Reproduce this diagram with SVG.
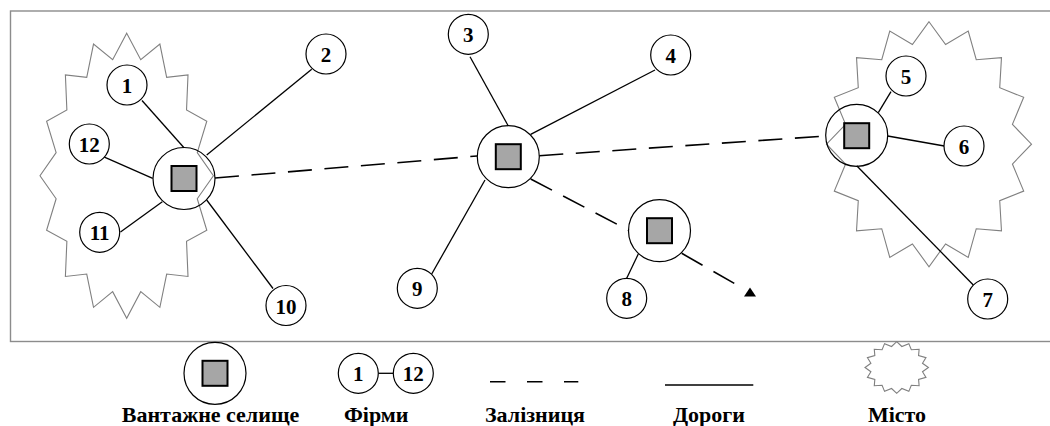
<svg xmlns="http://www.w3.org/2000/svg" xmlns:xlink="http://www.w3.org/1999/xlink" width="1050" height="426" viewBox="0 0 1050 426">
<style>
.frame{fill:none;stroke:#8c8c8c;stroke-width:1.4}
.city{fill:none;stroke:#808080;stroke-width:1.1}
.firm{fill:#fff;stroke:#000;stroke-width:1.2}
.hub{fill:none;stroke:#000;stroke-width:1.2}
.sq{fill:#a6a6a6;stroke:#000;stroke-width:2}
.road{stroke:#000;stroke-width:1.3;fill:none}
.rail{stroke:#000;stroke-width:1.6;fill:none;stroke-dasharray:24 12.6}
.lbl{font-size:22px}
</style>
<defs>
<polygon id="star" vector-effect="non-scaling-stroke" points="0,-100 16.19,-81.39 38.27,-92.39 46.10,-69.00 70.71,-70.71 69.00,-46.10 92.39,-38.27 81.39,-16.19 100,0 81.39,16.19 92.39,38.27 69.00,46.10 70.71,70.71 46.10,69.00 38.27,92.39 16.19,81.39 0,100 -16.19,81.39 -38.27,92.39 -46.10,69.00 -70.71,70.71 -69.00,46.10 -92.39,38.27 -81.39,16.19 -100,0 -81.39,-16.19 -92.39,-38.27 -69.00,-46.10 -70.71,-70.71 -46.10,-69.00 -38.27,-92.39 -16.19,-81.39"/>
</defs>
<rect class="frame" x="10.5" y="11" width="1060" height="330.5"/>
<g id="cities">
<use class="city" href="#star" transform="translate(126.7,175.7) scale(0.867,1.425)"/>
<use class="city" href="#star" transform="translate(929,144.2) scale(1.025,1.225)"/>
</g>
<g id="connectors">
<line class="road" x1="142" y1="100.5" x2="184" y2="147.7"/>
<line class="road" x1="206.7" y1="155" x2="311.7" y2="69.3"/>
<line class="road" x1="103.3" y1="156.7" x2="152.7" y2="178.3"/>
<line class="road" x1="120.5" y1="232" x2="162.3" y2="201.7"/>
<line class="road" x1="206.7" y1="200" x2="273" y2="288.5"/>
<line class="road" x1="470" y1="56.7" x2="508.3" y2="126"/>
<line class="road" x1="655" y1="70" x2="530.7" y2="134.3"/>
<line class="road" x1="485" y1="180" x2="431.7" y2="274"/>
<line class="road" x1="638.3" y1="254" x2="626.7" y2="278.3"/>
<line class="road" x1="878.3" y1="112.7" x2="891" y2="91.7"/>
<line class="road" x1="887.7" y1="136" x2="944.3" y2="146"/>
<line class="road" x1="856.7" y1="165.7" x2="973.3" y2="285"/>
<line class="rail" x1="215" y1="178" x2="477" y2="156"/>
<line class="rail" x1="539.3" y1="155.7" x2="825.5" y2="136"/>
<line class="rail" x1="530.7" y1="179" x2="629" y2="230.5"/>
<line class="rail" x1="681.7" y1="253.3" x2="744" y2="289"/>
<polygon points="744,296.5 756,296.5 750,287.5" fill="#000"/>
</g>
<g id="hub-left">
<circle class="hub" cx="184" cy="178.5" r="31"/>
<rect class="sq" x="171.5" y="166" width="25" height="25"/>
</g>
<g id="hub-center">
<circle class="hub" cx="508.3" cy="156.7" r="31"/>
<rect class="sq" x="495.8" y="144.2" width="25" height="25"/>
</g>
<g id="hub-south">
<circle class="hub" cx="659.5" cy="230.7" r="31"/>
<rect class="sq" x="647" y="218.2" width="25" height="25"/>
</g>
<g id="hub-right">
<circle class="hub" cx="856.7" cy="135.3" r="31"/>
<rect class="sq" x="844.2" y="123.2" width="25" height="25"/>
</g>
<g font-family="Liberation Serif, Times New Roman, serif" font-weight="bold" font-size="21" text-anchor="middle" fill="#000">
<g id="firm-1"><circle class="firm" cx="127" cy="85" r="20"/><text x="127" y="93">1</text></g>
<g id="firm-2"><circle class="firm" cx="326" cy="54" r="20"/><text x="326" y="62">2</text></g>
<g id="firm-3"><circle class="firm" cx="468.3" cy="34.3" r="20"/><text x="468.3" y="42.3">3</text></g>
<g id="firm-4"><circle class="firm" cx="670.7" cy="55" r="20"/><text x="670.7" y="63">4</text></g>
<g id="firm-5"><circle class="firm" cx="906" cy="76" r="20"/><text x="906" y="84">5</text></g>
<g id="firm-6"><circle class="firm" cx="964" cy="146" r="20"/><text x="964" y="154">6</text></g>
<g id="firm-7"><circle class="firm" cx="987.7" cy="299" r="20"/><text x="987.7" y="307">7</text></g>
<g id="firm-8"><circle class="firm" cx="626.7" cy="298.3" r="20"/><text x="626.7" y="306.3">8</text></g>
<g id="firm-9"><circle class="firm" cx="417.3" cy="288.3" r="20"/><text x="417.3" y="296.3">9</text></g>
<g id="firm-10"><circle class="firm" cx="286" cy="305.5" r="20"/><text x="286" y="313.5">10</text></g>
<g id="firm-11"><circle class="firm" cx="99.7" cy="232.3" r="20"/><text x="99.7" y="240.3">11</text></g>
<g id="firm-12"><circle class="firm" cx="89.3" cy="144" r="20"/><text x="89.3" y="152">12</text></g>
<g id="legend">
<g id="legend-hub">
<circle class="hub" cx="215" cy="373.3" r="31"/>
<rect class="sq" x="202.5" y="360.8" width="25" height="25"/>
<text class="lbl" x="210.5" y="421.7">Вантажне селище</text>
</g>
<g id="legend-firms">
<line class="road" x1="378.3" y1="373.3" x2="393.3" y2="373.3"/>
<circle class="firm" cx="358.3" cy="373.3" r="20"/><text x="358.3" y="381.3">1</text>
<circle class="firm" cx="413.3" cy="373.3" r="20"/><text x="413.3" y="381.3">12</text>
<text class="lbl" x="376.2" y="421.7">Фірми</text>
</g>
<g id="legend-rail">
<line x1="490" y1="381.7" x2="578.3" y2="381.7" stroke="#000" stroke-width="1.6" stroke-dasharray="15.5 21.5"/>
<text class="lbl" x="535" y="421.7">Залізниця</text>
</g>
<g id="legend-road">
<line x1="665" y1="385" x2="753.3" y2="385" stroke="#000" stroke-width="1.7"/>
<text class="lbl" x="709" y="421.7">Дороги</text>
</g>
<g id="legend-city">
<use class="city" href="#star" transform="translate(896.7,367.5) scale(0.317,0.258)"/>
<text class="lbl" x="897" y="421.7">Місто</text>
</g>
</g>
</g>
</svg>
